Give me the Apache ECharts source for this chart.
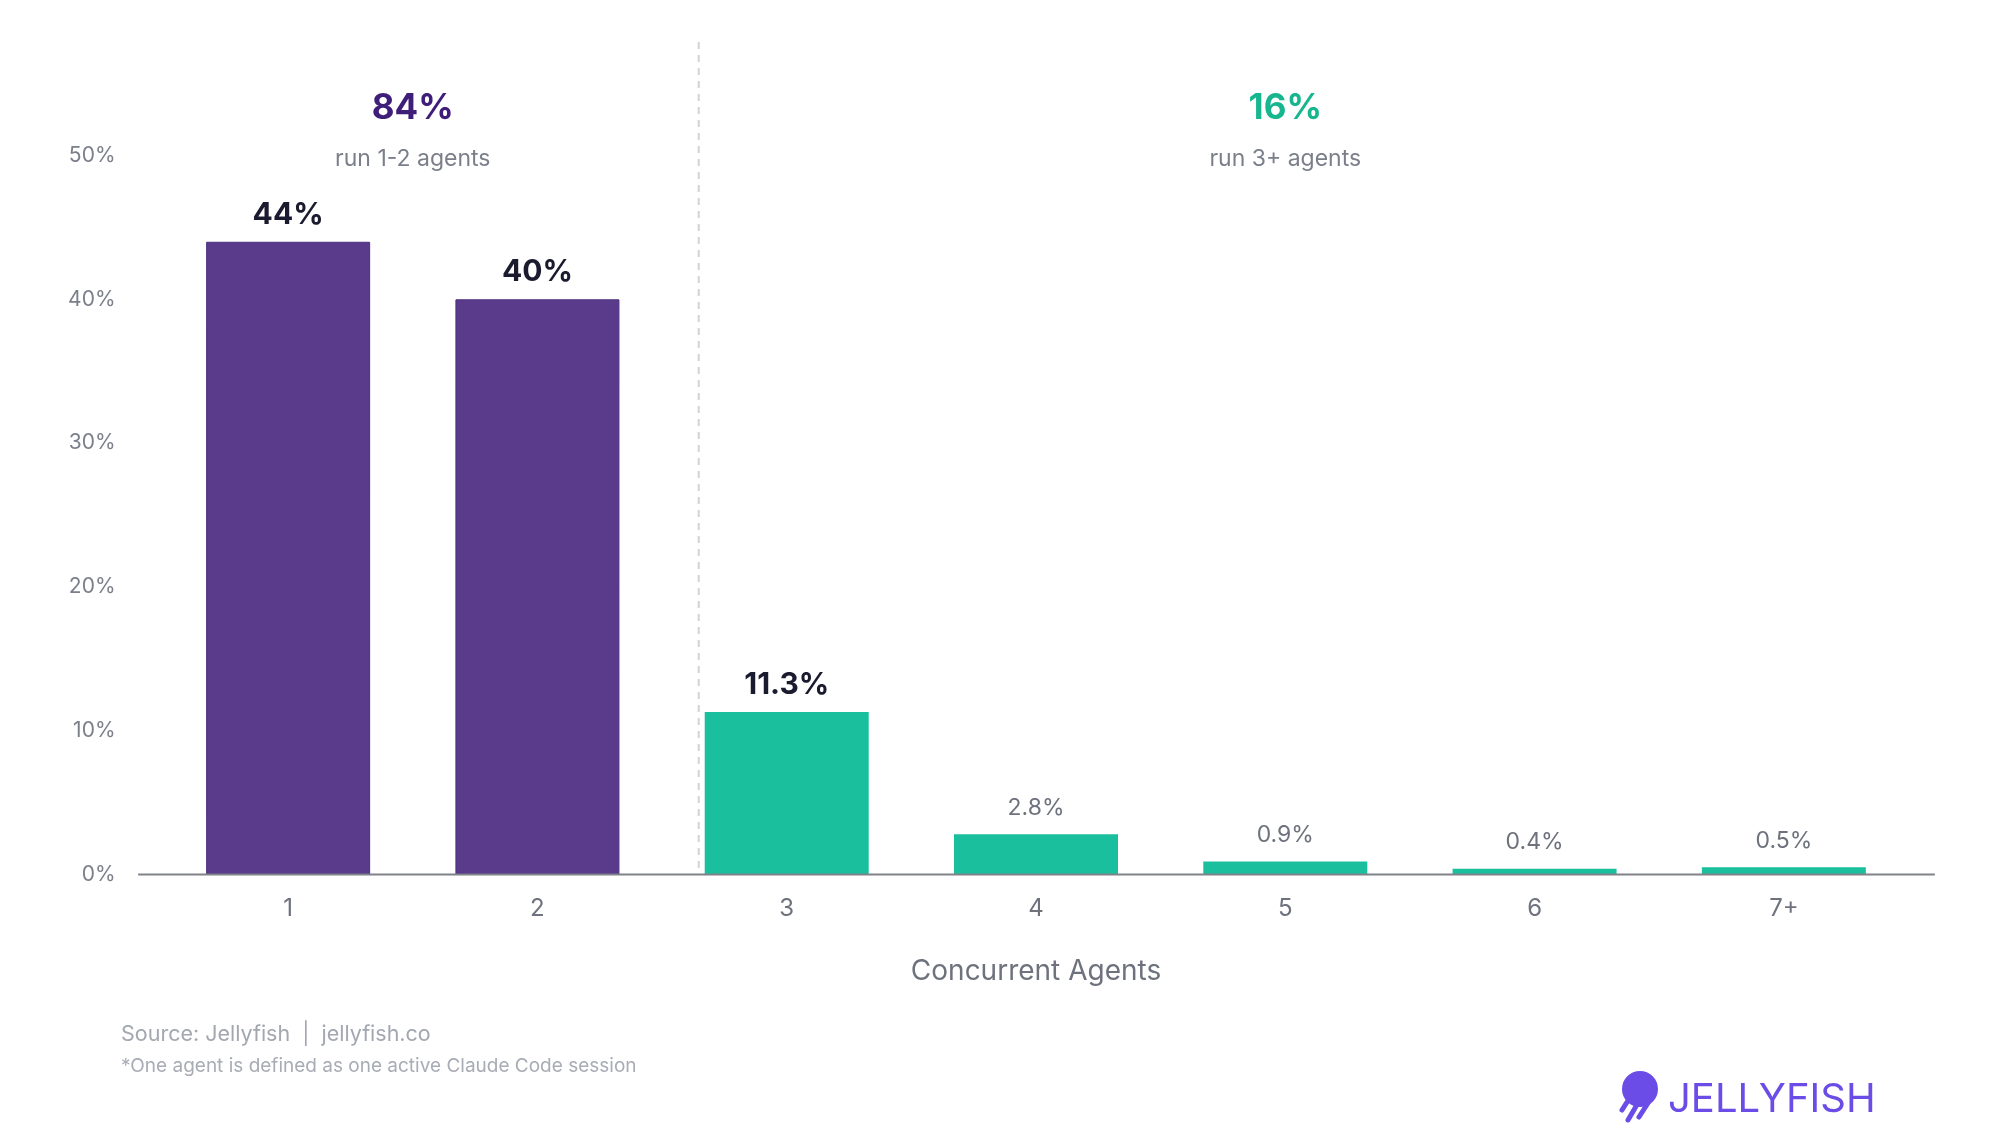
<!DOCTYPE html>
<html>
<head>
<meta charset="utf-8">
<script src="https://cdn.jsdelivr.net/npm/echarts@6/dist/echarts.min.js"></script>
<style>
  html, body { margin: 0; padding: 0; background: #fff; }
  #chart { width: 1999px; height: 1143px; }
</style>
</head>
<body>
<div id="chart"></div>
<script>
const categories = ['1', '2', '3', '4', '5', '6', '7+'];
const shares = [44, 40, 11.3, 2.8, 0.9, 0.4, 0.5];
// 0 = runs 1-2 agents, 1 = runs 3+ agents
const barGroup = [0, 0, 1, 1, 1, 1, 1];
const boldLabel = [true, true, true, false, false, false, false];
const yTicks = [0, 10, 20, 30, 40, 50];
const groupTotals = ['84%', '16%'];
const groupNotes = ['run 1-2 agents', 'run 3+ agents'];
const groupCategories = [['1', '2'], ['3', '4', '5', '6', '7+']];

const FONT = 'Inter, "Open Sans", sans-serif';
const PURPLE = '#5a3b8b';
const GREEN = '#1abf9e';
const groupColors = [PURPLE, GREEN];
const totalColors = ['#3f1e7a', '#17b68e'];
const BAR_WIDTH = 164;

const chart = echarts.init(document.getElementById('chart'));

const barData = shares.map((v, i) => ({
  value: v,
  itemStyle: {
    color: groupColors[barGroup[i]],
    borderColor: barGroup[i] === 0 ? '#4d2f7e' : GREEN,
    borderWidth: barGroup[i] === 0 ? 1 : 0,
  },
  label: boldLabel[i]
    ? { fontSize: 30, fontWeight: 'bold', color: '#1b1b2f', distance: 12 }
    : { fontSize: 23, fontWeight: 'normal', color: '#6e727d', distance: 15 },
}));

const option = {
  backgroundColor: '#fff',
  animation: false,
  grid: {
    left: 163.5,
    right: 90.5,
    top: 155.5,
    bottom: 268.5,
  },
  xAxis: {
    type: 'category',
    data: categories,
    name: 'Concurrent Agents',
    nameLocation: 'middle',
    nameGap: 83,
    nameTextStyle: { fontFamily: FONT, fontSize: 28, color: '#6e727d' },
    axisLine: { show: false },
    axisTick: { show: false },
    axisLabel: { fontFamily: FONT, fontSize: 24, color: '#6e727d', margin: 22 },
  },
  yAxis: {
    type: 'value',
    min: yTicks[0],
    max: yTicks[yTicks.length - 1],
    interval: yTicks[1] - yTicks[0],
    axisLine: { show: false },
    axisTick: { show: false },
    splitLine: { show: false },
    axisLabel: {
      fontFamily: FONT,
      fontSize: 21,
      color: '#7b7f8a',
      margin: 48,
      formatter: '{value}%',
    },
  },
  series: [
    {
      type: 'bar',
      data: barData,
      barWidth: BAR_WIDTH,
      label: {
        show: true,
        position: 'top',
        fontFamily: FONT,
        formatter: (p) => p.value + '%',
      },
    },
  ],
};

chart.setOption(option);

// overlays placed through the chart's own scales
const drawOverlays = () => {
  const zeroY = chart.convertToPixel({ yAxisIndex: 0 }, 0);
  const firstX = chart.convertToPixel({ xAxisIndex: 0 }, categories[0]);
  const lastX = chart.convertToPixel({ xAxisIndex: 0 }, categories[categories.length - 1]);
  const thirdX = chart.convertToPixel({ xAxisIndex: 0 }, '3');
  const dividerX = thirdX - BAR_WIDTH / 2 - 6;

  const elements = [
    {
      type: 'line',
      shape: { x1: firstX - 150, y1: zeroY, x2: lastX + 151, y2: zeroY },
      style: { stroke: '#808289', lineWidth: 2 },
      z: 10,
    },
    {
      type: 'line',
      shape: { x1: dividerX, y1: 42, x2: dividerX, y2: zeroY },
      style: { stroke: '#d3d3d6', lineWidth: 2, lineDash: [7, 6] },
      z: 1,
    },
  ];

  groupCategories.forEach((cats, g) => {
    const xs = cats.map((c) => chart.convertToPixel({ xAxisIndex: 0 }, c));
    const cx = (xs[0] + xs[xs.length - 1]) / 2;
    elements.push({
      type: 'text',
      x: cx,
      y: 108,
      style: {
        text: groupTotals[g],
        fontFamily: FONT,
        fontSize: 35,
        fontWeight: 'bold',
        fill: totalColors[g],
        align: 'center',
        verticalAlign: 'middle',
      },
    });
    elements.push({
      type: 'text',
      x: cx,
      y: 159,
      style: {
        text: groupNotes[g],
        fontFamily: FONT,
        fontSize: 23,
        fill: '#7b7f8a',
        align: 'center',
        verticalAlign: 'middle',
      },
    });
  });

  elements.push(
    {
      type: 'text',
      x: 121,
      y: 1035,
      style: {
        text: 'Source: Jellyfish  |  jellyfish.co',
        fontFamily: FONT,
        fontSize: 21.5,
        fill: '#a3a7b0',
        verticalAlign: 'middle',
      },
    },
    {
      type: 'text',
      x: 121,
      y: 1066,
      style: {
        text: '*One agent is defined as one active Claude Code session',
        fontFamily: FONT,
        fontSize: 19,
        fill: '#a8acb4',
        verticalAlign: 'middle',
      },
    },
    // logo
    {
      type: 'circle',
      shape: { cx: 1640, cy: 1089, r: 18 },
      style: { fill: '#6b4ce6' },
    },
    {
      type: 'line',
      shape: { x1: 1629, y1: 1099, x2: 1622, y2: 1110 },
      style: { stroke: '#6b4ce6', lineWidth: 5, lineCap: 'round' },
    },
    {
      type: 'line',
      shape: { x1: 1638, y1: 1103, x2: 1628, y2: 1120 },
      style: { stroke: '#6b4ce6', lineWidth: 5, lineCap: 'round' },
    },
    {
      type: 'line',
      shape: { x1: 1648, y1: 1103, x2: 1639, y2: 1117 },
      style: { stroke: '#6b4ce6', lineWidth: 5, lineCap: 'round' },
    },
    {
      type: 'text',
      x: 1668,
      y: 1100,
      style: {
        text: 'JELLYFISH',
        fontFamily: FONT,
        fontSize: 40,
        fill: '#6b4ce6',
        verticalAlign: 'middle',
      },
    }
  );

  chart.setOption({ graphic: { elements } });
};

drawOverlays();
window.addEventListener('resize', () => {
  chart.resize();
  drawOverlays();
});
</script>
</body>
</html>
